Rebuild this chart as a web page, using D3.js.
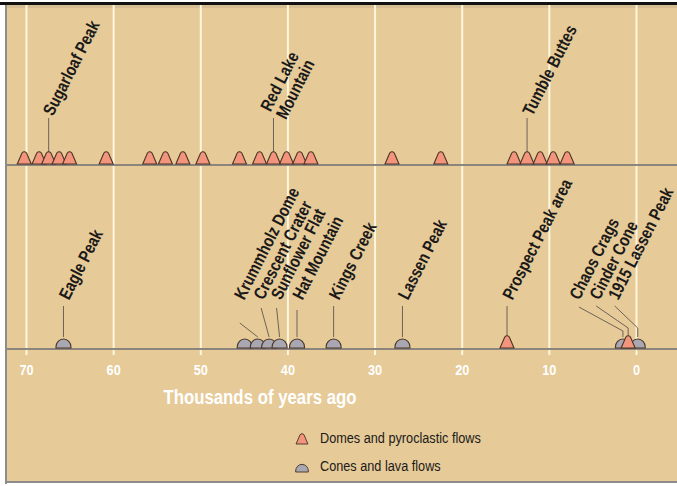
<!DOCTYPE html>
<html>
<head>
<meta charset="utf-8">
<script src="https://cdn.jsdelivr.net/npm/d3@7"></script>
<style>
  body { margin: 0; background: #fff; }
  svg { display: block; }
</style>
</head>
<body>
<div id="chart"></div>
<script>
// Eruption timeline, Lassen volcanic center (thousands of years ago)
var topAges = [70.2, 68.5, 67.4, 66.2, 65.0, 60.8, 55.8, 54.0, 52.0, 49.7,
  45.5, 43.2, 41.6, 40.1, 38.6, 37.3, 28.0, 22.4, 14.0, 12.5, 11.0, 9.5, 7.9];
var topNames = ["Sugarloaf Peak", "Red Lake Mountain", "Tumble Buttes"];
var topNameAges = [67.4, 41.6, 12.5];

var bottomNames = ["Eagle Peak", "", "Krummholz Dome", "Crescent Crater", "Sunflower Flat",
  "Hat Mountain", "Kings Creek", "Lassen Peak", "Prospect Peak area",
  "Chaos Crags", "Cinder Cone", "1915 Lassen Peak"];
var bottomAges = [65.7, 44.9, 43.4, 42.1, 40.9, 38.9, 34.7, 26.8, 14.8, 1.5, 0.9, -0.2];
var bottomTypes = ["cone", "cone", "cone", "cone", "cone", "cone", "cone", "cone",
  "dome", "cone", "dome", "cone"];

var tickValues = [70, 60, 50, 40, 30, 20, 10, 0];
var axisTitle = "Thousands of years ago";
var legendLabels = ["Domes and pyroclastic flows", "Cones and lava flows"];
var legendTypes = ["dome", "cone"];

// layout: label anchor offset from marker (dx) and leader bend points
var labelLayout = {
  "Sugarloaf Peak":     { dx: -1,  leader: [[0, 118]] },
  "Red Lake Mountain":  { dx: 0,   leader: [[0, 118]] },
  "Tumble Buttes":      { dx: 0,   leader: [[0, 118]] },
  "Eagle Peak":         { dx: 0,   leader: [[0, 306]] },
  "Krummholz Dome":     { dx: -19, leader: [[-18, 323]] },
  "Crescent Crater":    { dx: -11, leader: [[-8, 308]] },
  "Sunflower Flat":     { dx: -4,  leader: [[-3, 308]] },
  "Hat Mountain":       { dx: 0,   leader: [[0, 310]] },
  "Kings Creek":        { dx: 0,   leader: [[0, 306]] },
  "Lassen Peak":        { dx: 0,   leader: [[0, 306]] },
  "Prospect Peak area": { dx: 0,   leader: [[0, 306]] },
  "Chaos Crags":        { dx: -49, leader: [[0, 331], [-44, 307]] },
  "Cinder Cone":        { dx: -34, leader: [[0, 328], [-32, 306]] },
  "1915 Lassen Peak":   { dx: -25, leader: [[0, 328], [-23, 306]] }
};

var svgWidth = 677;
var svgHeight = 486;
var topBase = 165;
var bottomBase = 349;
var angle = -63;
var squeeze = 0.82;
var font = "'Liberation Sans', Arial, sans-serif";

var svg = d3.select("#chart")
  .append("svg")
  .attr("width", svgWidth)
  .attr("height", svgHeight);

// panel
svg.append("rect")
  .attr("x", 7).attr("y", 5)
  .attr("width", svgWidth - 7).attr("height", 477)
  .attr("fill", "#E6CA98");
svg.append("rect")
  .attr("x", 7).attr("y", 5)
  .attr("width", svgWidth - 7).attr("height", 3)
  .attr("fill", "#cdb692").attr("opacity", 0.7);
svg.append("rect")
  .attr("x", 0).attr("y", 2)
  .attr("width", svgWidth).attr("height", 3)
  .attr("fill", "#111");
svg.append("rect")
  .attr("x", 5).attr("y", 5)
  .attr("width", 2).attr("height", 479)
  .attr("fill", "#8c8c8c");
svg.append("rect")
  .attr("x", 5).attr("y", 481)
  .attr("width", svgWidth - 5).attr("height", 2)
  .attr("fill", "#8c8c8c");

var x = d3.scaleLinear()
  .domain([70, 0])
  .range([26, 636]);

// vertical grid lines
svg.append("g")
  .attr("transform", "translate(0, 355)")
  .call(d3.axisTop(x).tickValues(tickValues).tickSize(350).tickFormat(""))
  .call(g => g.select(".domain").remove())
  .selectAll("line")
  .attr("stroke", "#FFF6DE")
  .attr("stroke-width", 2);

// baselines
[topBase, bottomBase].forEach(function(y) {
  svg.append("line")
    .attr("x1", 7).attr("x2", svgWidth)
    .attr("y1", y).attr("y2", y)
    .attr("stroke", "#8C857E")
    .attr("stroke-width", 2);
});

// tick labels
var axisG = svg.append("g")
  .attr("transform", "translate(0, 375)")
  .call(d3.axisBottom(x).tickValues(tickValues).tickSize(0).tickPadding(0));
axisG.select(".domain").remove();
axisG.selectAll("text")
  .attr("y", 0)
  .attr("dy", 0)
  .attr("transform", `scale(${squeeze}, 1)`)
  .attr("fill", "#fff")
  .style("font-family", font)
  .style("font-weight", "bold")
  .style("font-size", "15.5px");

svg.append("text")
  .attr("transform", `translate(260, 404) scale(${squeeze}, 1)`)
  .attr("text-anchor", "middle")
  .attr("fill", "#fff")
  .style("font-family", font)
  .style("font-weight", "bold")
  .style("font-size", "20.5px")
  .text(axisTitle);

// marker shapes
function markerPath(type) {
  if (type === "dome") {
    return "M-7,0 L-2.3,-11 Q0,-13.5 2.3,-11 L7,0 Z";
  }
  return "M-7.5,0 L-7.5,-1 A7.5,8 0 0 1 7.5,-1 L7.5,0 Z";
}
function markerFill(type) {
  return type === "dome" ? "#F2957C" : "#A9A8B2";
}

function drawMarkers(ages, types, base) {
  var data = ages.map(function(a, i) { return { age: a, type: types[i] }; });
  data.sort(function(a, b) { return a.type === b.type ? 0 : (a.type === "cone" ? -1 : 1); });
  svg.append("g").selectAll("path")
    .data(data)
    .enter()
    .append("path")
    .attr("transform", d => `translate(${x(d.age)}, ${base - 1})`)
    .attr("d", d => markerPath(d.type))
    .attr("fill", d => markerFill(d.type))
    .attr("stroke", "#4a3527")
    .attr("stroke-width", 1.1);
}

function drawLabel(name, age, base) {
  var lay = labelLayout[name];
  var mx = x(age);
  var pts = [[mx, base - 12]].concat(lay.leader.map(p => [mx + p[0], p[1]]));
  svg.append("path")
    .attr("d", d3.line()(pts))
    .attr("fill", "none")
    .attr("stroke", "#6e6259")
    .attr("stroke-width", 1);

  var t = svg.append("text")
    .attr("transform", `translate(${mx + lay.dx}, ${base - 51}) rotate(${angle}) scale(${squeeze}, 1)`)
    .attr("fill", "#1b1a18")
    .style("font-family", font)
    .style("font-weight", "bold")
    .style("font-size", "17.5px");
  var lines = name === "Red Lake Mountain" ? ["Red Lake", "Mountain"] : [name];
  lines.forEach(function(line, i) {
    t.append("tspan")
      .attr("x", 0)
      .attr("dy", i === 0 ? (lines.length > 1 ? "-0.2em" : "0.35em") : "1.0em")
      .text(line);
  });
}

topNames.forEach(function(n, i) { drawLabel(n, topNameAges[i], topBase); });
bottomNames.forEach(function(n, i) { if (n) drawLabel(n, bottomAges[i], bottomBase); });

drawMarkers(topAges, topAges.map(() => "dome"), topBase);
drawMarkers(bottomAges, bottomTypes, bottomBase);

// legend
var legend = svg.append("g").selectAll("g")
  .data(legendLabels)
  .enter()
  .append("g")
  .attr("transform", (d, i) => `translate(302, ${438 + i * 28})`);

legend.append("path")
  .attr("transform", "translate(0, 6) scale(0.85)")
  .attr("d", (d, i) => markerPath(legendTypes[i]))
  .attr("fill", (d, i) => markerFill(legendTypes[i]))
  .attr("stroke", "#4a3527")
  .attr("stroke-width", 1.1);

legend.append("text")
  .attr("transform", `translate(18, 0) scale(${squeeze}, 1)`)
  .attr("dy", "0.35em")
  .attr("fill", "#1b1a18")
  .style("font-family", font)
  .style("font-size", "15.5px")
  .text(d => d);
</script>
</body>
</html>
